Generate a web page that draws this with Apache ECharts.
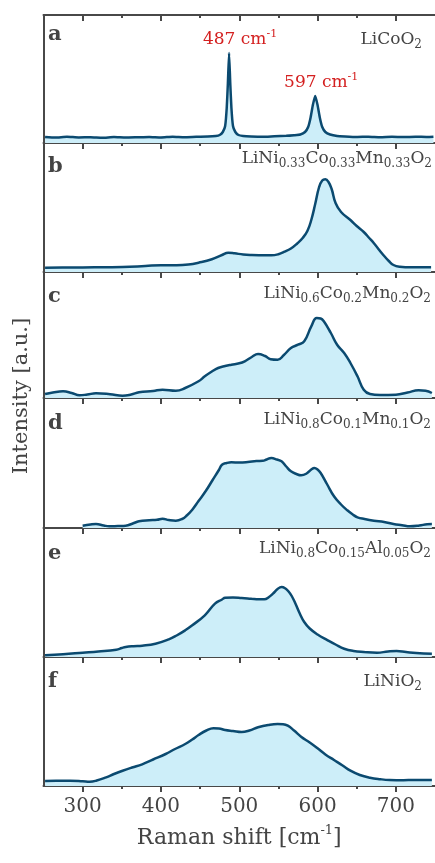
<!DOCTYPE html>
<html>
<head>
<meta charset="utf-8">
<script src="https://cdn.jsdelivr.net/npm/echarts@6/dist/echarts.min.js"></script>
<style>
html,body{margin:0;padding:0;background:#fff;}
#chart{width:435px;height:863px;}
</style>
</head>
<body>
<div id="chart"></div>
<script>
// ---- data (Raman shift in cm^-1, intensity in a.u.) ----
const majorTicks = [300, 400, 500, 600, 700];
const minorTicks = [350, 450, 550, 650];
const panelLetters = ['a', 'b', 'c', 'd', 'e', 'f'];
const compoundLabels = [
  '{m|LiCoO}{s|2}',
  '{m|LiNi}{s|0.33}{m|Co}{s|0.33}{m|Mn}{s|0.33}{m|O}{s|2}',
  '{m|LiNi}{s|0.6}{m|Co}{s|0.2}{m|Mn}{s|0.2}{m|O}{s|2}',
  '{m|LiNi}{s|0.8}{m|Co}{s|0.1}{m|Mn}{s|0.1}{m|O}{s|2}',
  '{m|LiNi}{s|0.8}{m|Co}{s|0.15}{m|Al}{s|0.05}{m|O}{s|2}',
  '{m|LiNiO}{s|2}'
];
const peakLabels = [[487, 90, '487'], [597, 47, '597']];

const xA = [252,265,280,295,310,325,340,355,370,385,400,415,430,445,460,470,475,479,482,484,485.5,487,488.5,490,492,495,499,505,515,530,545,560,570,578,584,588,591,594,597,600,603,606,610,616,625,635,650,665,680,695,710,725,740,748];
const yA = [6,5.5,6.2,5.6,5.8,5.3,5.9,5.4,5.7,6,5.5,6.3,5.8,6.2,6.4,7,8,11,17,35,60,90,60,35,17,11,8,7,6.5,6.2,6.8,7.2,7.8,8.5,11,16,25,38,47,38,25,16,11,8.5,7,6.5,6,6.3,5.8,6.2,5.9,6.3,6,6.2];

const xB = [252,280,300,330,351,380,400,420,435,448,465,478,486,494,505,516,530,541,550,558,566,574,581,587,592,597,602,606,610,614,618,623,630,642,650,659,666,672,684,691,697,705,720,745];
const yB = [4.3,4.5,4.6,4.8,5,6,6.8,6.8,7.5,9.3,12.7,17,19.3,18.7,17.5,17,16.8,16.7,17.8,20.3,23.5,28.5,34,41,52,68,85,91.5,92.7,90,83,69,60,52,46,40,34,28.7,17,11,7,5.3,4.7,4.7];

const xC = [252,262,275,286,296,306,317,335,351,362,372,390,402,419,431,448,456,465,473,482,490,500,507,516,524,533,540,549,557,566,575,583,592,599,604,608,617,625,634,642,651,659,667,680,700,715,729,738,746];
const yC = [4,5.5,6.7,5,2.7,3.5,4.7,3.8,2.3,3.5,5.7,7,8.3,7.3,10,16.7,21.7,26.5,30,32,33.3,34.7,36.7,41,44,42,38.8,38.3,43,50,53.3,56.7,71.7,80,79.5,76.7,65,53.3,45,35,21.7,8.3,4,3,3.3,5.5,7.7,7.2,5];

const xD = [300,310,317,327,334,345,355,364,372,385,395,402,410,419,427,433,440,448,457,466,474,478,484,490,500,511,522,530,535,541,548,554,560,566,573,579,586,592,596,600,604,612,621,630,638,645,651,660,672,685,697,708,718,730,740,746];
const yD = [2.3,3.5,4,2.5,1.7,2,2.3,4.5,6.7,7.8,8.2,9.3,8,7.3,9,12.5,18.3,27,36.7,48,58,63.3,65,65.7,65.5,66,67,67.2,68.5,70,68.5,66.7,61.5,56.7,54,52.7,54.5,58.5,60,58.5,55,44,31.7,23.5,17.7,13.5,10.7,9,7.3,6,4,2.8,1.7,2.5,3.8,4];

const xE = [252,275,300,320,343,350,355,365,376,393,410,420,431,440,456,469,478,482,492,503,515,525,532,538,543,549,554,559,563,567,572,577,583,590,600,613,623,634,646,659,676,690,701,713,726,746];
const yE = [1.7,2.8,4.3,5.5,7.3,9,10,10.8,11.3,13.3,17.7,21.5,26.7,31.7,41.7,53.3,57.5,59.3,59.5,59,58.3,57.7,57.7,60,63.3,68,70,68.5,65.5,61,53,44,35,28.5,22.5,16.7,12.5,8.3,6,5,4.3,5.5,6,5,4,3.3];

const xF = [252,270,284,300,309,318,330,340,351,363,376,390,406,418,431,440,448,458,467,474,482,492,503,513,524,537,549,556,562,570,579,590,600,610,621,632,642,654,667,680,692,710,722,746];
const yF = [5,5.2,5.3,4.8,4.3,5.5,8.7,12,15.3,18.5,21.7,26.5,32,37,42,46.5,51,55.5,57.7,57.5,56,55,54,55.5,58.7,61,62,61.8,60.3,55.5,49.3,43.5,37.7,31.5,26,20.5,15.3,11,8.3,6.8,6,5.8,6,6];

const seriesX = [xA, xB, xC, xD, xE, xF];
const seriesY = [yA, yB, yC, yD, yE, yF];

// ---- layout ----
const panelTops = [15, 143, 272, 398, 528, 657];
const panelBottoms = [143, 272, 398, 528, 657, 786];
const letterY = [36, 168, 298, 425, 555, 683];
const compoundY = [43, 162, 297, 423, 552, 685];
const compoundRight = [422, 432, 431, 431, 431, 422];

const FONT = "'DejaVu Serif', 'Liberation Serif', serif";
const AXIS_COLOR = '#484848';
const TEXT_COLOR = '#444444';
const LINE_COLOR = '#0b4a70';
const FILL_COLOR = '#cdeef9';
const RED = '#d42020';

const grids = [], xAxes = [], yAxes = [], series = [], graphics = [];
for (let i = 0; i < 6; i++) {
  grids.push({left: 43.5, width: 395, top: panelTops[i], height: panelBottoms[i] - panelTops[i]});
  yAxes.push({
    gridIndex: i, type: 'value', min: 0, max: panelBottoms[i] - panelTops[i],
    axisLine: {show: true, lineStyle: {color: AXIS_COLOR, width: 2}},
    axisTick: {show: false}, axisLabel: {show: false}, splitLine: {show: false}
  });
  const mainIdx = xAxes.length;
  xAxes.push({
    gridIndex: i, type: 'value', position: 'bottom', min: 250, max: 750,
    axisLine: {show: true, onZero: false, lineStyle: {color: AXIS_COLOR, width: 2}},
    axisTick: {show: true, inside: false, length: 6, customValues: majorTicks, lineStyle: {color: AXIS_COLOR, width: 2}},
    axisLabel: {show: i === 5, customValues: majorTicks, margin: 11, color: TEXT_COLOR, fontFamily: FONT, fontSize: 20},
    splitLine: {show: false},
    name: i === 5 ? 'Raman shift [cm{sup|-1}]' : '',
    nameLocation: 'middle', nameGap: 52,
    nameTextStyle: {color: TEXT_COLOR, fontFamily: FONT, fontSize: 22, lineHeight: 28, verticalAlign: 'middle',
      rich: {sup: {fontSize: 13, lineHeight: 13, verticalAlign: 'top', color: TEXT_COLOR, fontFamily: FONT}}}
  });
  xAxes.push({
    gridIndex: i, type: 'value', position: 'bottom', min: 250, max: 750,
    axisLine: {show: false, onZero: false},
    axisTick: {show: true, inside: false, length: 3, customValues: minorTicks, lineStyle: {color: AXIS_COLOR, width: 2}},
    axisLabel: {show: false}, splitLine: {show: false}
  });
  const data = seriesX[i].map((x, k) => [x, seriesY[i][k]]);
  const s = {
    type: 'line', xAxisIndex: mainIdx, yAxisIndex: i, data: data,
    smooth: i === 0 ? 0.15 : 0.45, symbol: 'none', silent: true,
    lineStyle: {color: LINE_COLOR, width: 2.5},
    areaStyle: {color: FILL_COLOR, opacity: 1}
  };
  if (i === 0) {
    s.markPoint = {
      symbol: 'circle', symbolSize: 0, silent: true,
      data: peakLabels.map((p, k) => ({
        coord: [p[0], p[1]],
        label: {
          show: true, position: 'top', distance: 2, offset: [k === 0 ? 11 : 6, 0],
          formatter: '{m|' + p[2] + ' cm}{sup|-1}',
          rich: {
            m: {fontSize: 17, lineHeight: 22, color: RED, fontFamily: FONT, verticalAlign: 'middle'},
            sup: {fontSize: 11, lineHeight: 11, color: RED, fontFamily: FONT, verticalAlign: 'top'}
          }
        }
      }))
    };
  }
  series.push(s);

  graphics.push({
    type: 'text', left: 48, top: letterY[i] - 12, silent: true,
    style: {text: panelLetters[i], fill: TEXT_COLOR, font: 'bold 21px ' + FONT}
  });
  graphics.push({
    type: 'text', right: 435 - compoundRight[i], top: compoundY[i] - 12, silent: true,
    style: {
      text: compoundLabels[i],
      rich: {
        m: {fontSize: 17, lineHeight: 22, fill: TEXT_COLOR, fontFamily: FONT, verticalAlign: 'middle'},
        s: {fontSize: 12, lineHeight: 12, fill: TEXT_COLOR, fontFamily: FONT, verticalAlign: 'bottom'}
      }
    }
  });
}
// top frame of panel a
xAxes.push({
  gridIndex: 0, type: 'value', position: 'top', min: 250, max: 750,
  axisLine: {show: true, onZero: false, lineStyle: {color: AXIS_COLOR, width: 2}},
  axisTick: {show: true, inside: true, length: 6, customValues: majorTicks, lineStyle: {color: AXIS_COLOR, width: 2}},
  axisLabel: {show: false}, splitLine: {show: false}
});
xAxes.push({
  gridIndex: 0, type: 'value', position: 'top', min: 250, max: 750,
  axisLine: {show: false, onZero: false},
  axisTick: {show: true, inside: true, length: 3, customValues: minorTicks, lineStyle: {color: AXIS_COLOR, width: 2}},
  axisLabel: {show: false}, splitLine: {show: false}
});
graphics.push({
  type: 'text', x: 22, y: 396, silent: true, rotation: Math.PI / 2,
  style: {text: 'Intensity [a.u.]', fill: TEXT_COLOR, font: '21px ' + FONT, align: 'center', verticalAlign: 'middle'}
});

const chart = echarts.init(document.getElementById('chart'), null, {renderer: 'canvas'});
chart.setOption({
  animation: false,
  backgroundColor: '#ffffff',
  grid: grids, xAxis: xAxes, yAxis: yAxes, series: series, graphic: graphics
});
</script>
</body>
</html>
